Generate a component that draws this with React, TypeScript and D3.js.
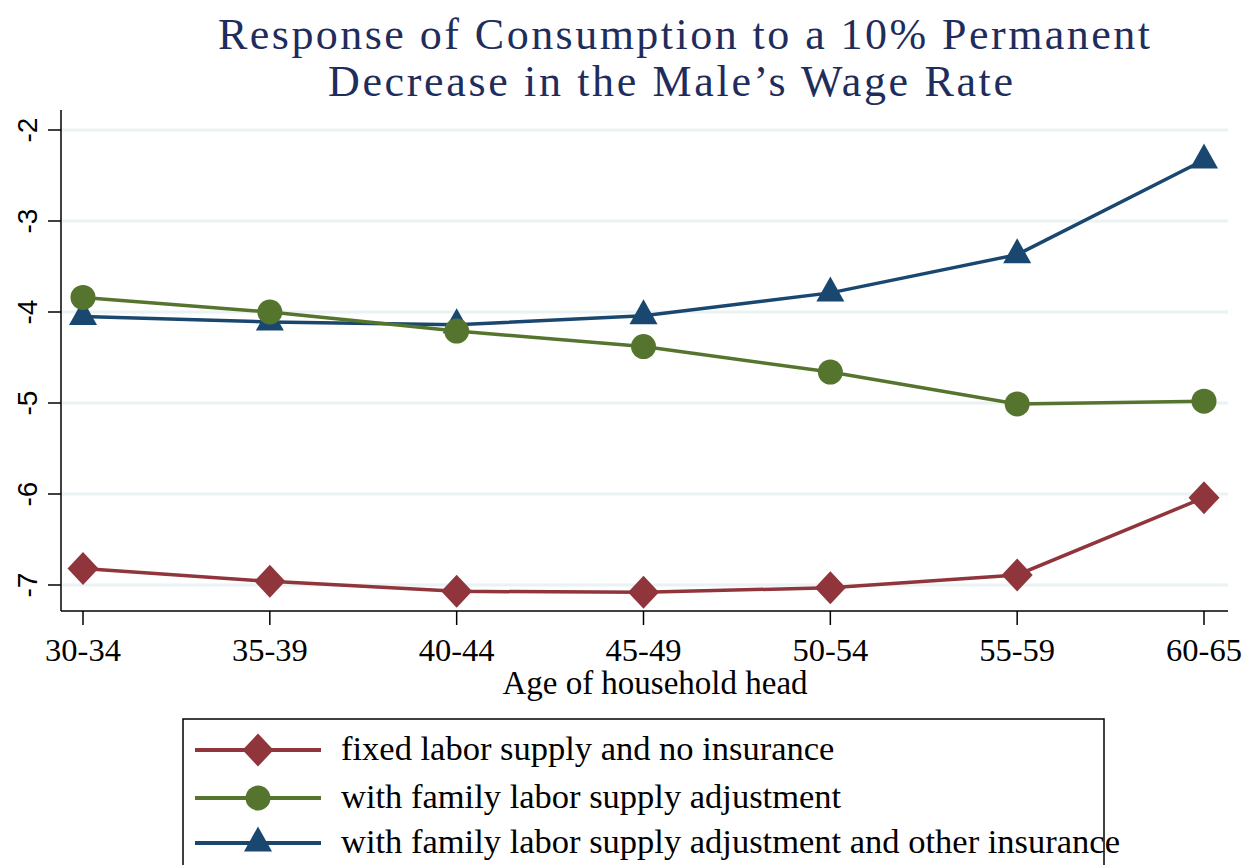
import React from 'react';
import * as d3 from 'd3';

// age groups on the x axis
const ageGroups = ['30-34', '35-39', '40-44', '45-49', '50-54', '55-59', '60-65'];
const yTicks = [-2, -3, -4, -5, -6, -7];

// percent response of consumption
const fixedNoInsurance = [-6.82, -6.96, -7.07, -7.08, -7.03, -6.89, -6.04];
const familyLabor = [-3.84, -4.0, -4.21, -4.38, -4.66, -5.01, -4.98];
const familyLaborInsurance = [-4.05, -4.11, -4.14, -4.04, -3.79, -3.37, -2.33];

const seriesNames = [
  'fixed labor supply and no insurance',
  'with family labor supply adjustment',
  'with family labor supply adjustment and other insurance',
];

const RED = '#90353b';
const GREEN = '#55752f';
const NAVY = '#1a476f';

const W = 1249;
const H = 865;

const markerPath = (kind: string) => {
  if (kind === 'diamond') return 'M0,-16.5L15.5,0L0,16.5L-15.5,0Z';
  if (kind === 'triangle') return 'M0,-16.5L14,8.5L-14,8.5Z';
  return '';
};

const Marker = ({ kind, color, x, y }: { kind: string; color: string; x: number; y: number }) =>
  kind === 'circle' ? (
    <circle cx={x} cy={y} r={12.5} fill={color} />
  ) : (
    <path d={markerPath(kind)} transform={`translate(${x},${y})`} fill={color} />
  );

export default function App() {
  const x = d3.scalePoint<string>().domain(ageGroups).range([83, 1204]);
  const y = d3.scaleLinear().domain([-7, -2]).range([585, 130]);

  const axisLeft = 61;
  const axisBottom = 611;

  const series = [
    { name: seriesNames[0], values: fixedNoInsurance, color: RED, marker: 'diamond' },
    { name: seriesNames[1], values: familyLabor, color: GREEN, marker: 'circle' },
    { name: seriesNames[2], values: familyLaborInsurance, color: NAVY, marker: 'triangle' },
  ];
  // draw order: green sits on top of navy in the original
  const drawOrder = [series[0], series[2], series[1]];

  const line = d3
    .line<number>()
    .x((_, i) => x(ageGroups[i]) as number)
    .y((d) => y(d));

  const serif = '"Liberation Serif", "Times New Roman", serif';
  const sans = '"Liberation Sans", Arial, sans-serif';

  return (
    <svg
      width={W}
      height={H}
      style={{ position: 'absolute', left: 0, top: 0, background: '#fff' }}
    >
      <rect width={W} height={H} fill="#fff" />

      {/* title */}
      <g fill="#1f2d5c" fontFamily={serif} fontSize={44}>
        <text x={218} y={49} textLength={932} lengthAdjust="spacing">
          Response of Consumption to a 10% Permanent
        </text>
        <text x={328} y={96} textLength={685} lengthAdjust="spacing">
          Decrease in the Male’s Wage Rate
        </text>
      </g>

      {/* grid */}
      {yTicks.map((t) => (
        <line key={'g' + t} x1={axisLeft + 1} x2={1228} y1={y(t)} y2={y(t)} stroke="#eaf2f3" strokeWidth={3} />
      ))}

      {/* y axis */}
      <line x1={axisLeft} x2={axisLeft} y1={110} y2={axisBottom} stroke="#000" strokeWidth={1.5} />
      {yTicks.map((t) => (
        <g key={'y' + t}>
          <line x1={48} x2={axisLeft} y1={y(t)} y2={y(t)} stroke="#000" strokeWidth={1.5} />
          <text
            transform={`translate(37,${y(t)}) rotate(-90)`}
            textAnchor="middle"
            fontFamily={sans}
            fontSize={28}
          >
            {t}
          </text>
        </g>
      ))}

      {/* x axis */}
      <line x1={axisLeft} x2={1228} y1={axisBottom} y2={axisBottom} stroke="#000" strokeWidth={1.5} />
      {ageGroups.map((g) => (
        <g key={g}>
          <line x1={x(g)} x2={x(g)} y1={axisBottom} y2={625} stroke="#000" strokeWidth={1.5} />
          <text x={x(g)} y={661} textAnchor="middle" fontFamily={serif} fontSize={32.5}>
            {g}
          </text>
        </g>
      ))}
      <text x={655} y={694} textAnchor="middle" fontFamily={serif} fontSize={33}>
        Age of household head
      </text>

      {/* series */}
      {drawOrder.map((s) => (
        <g key={s.name}>
          <path d={line(s.values) || ''} fill="none" stroke={s.color} strokeWidth={3.5} />
          {s.values.map((v, i) => (
            <Marker key={i} kind={s.marker} color={s.color} x={x(ageGroups[i]) as number} y={y(v)} />
          ))}
        </g>
      ))}

      {/* legend */}
      <rect x={183} y={719} width={921} height={200} fill="none" stroke="#000" strokeWidth={1.5} />
      {series.map((s, i) => {
        const cy = [750, 798, 843][i];
        return (
          <g key={'l' + i}>
            <line x1={195} x2={321} y1={cy} y2={cy} stroke={s.color} strokeWidth={4} />
            <Marker kind={s.marker} color={s.color} x={258} y={cy} />
            <text x={341} y={cy + 10} fontFamily={serif} fontSize={34.5}>
              {s.name}
            </text>
          </g>
        );
      })}
    </svg>
  );
}
